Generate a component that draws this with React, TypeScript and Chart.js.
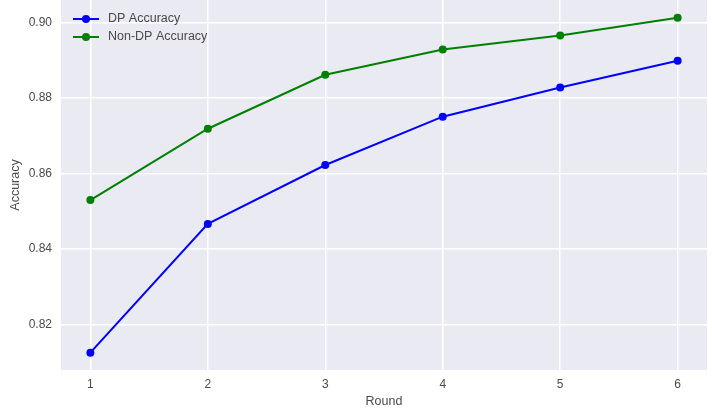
import { useEffect, useRef } from "react";
import { Chart, registerables } from "chart.js";
import type { Plugin } from "chart.js";

Chart.register(...registerables);

const rounds = [1, 2, 3, 4, 5, 6];
const dpAccuracy = [0.8126, 0.8467, 0.8623, 0.8751, 0.8828, 0.8899];
const nonDpAccuracy = [0.853, 0.8719, 0.8862, 0.8929, 0.8966, 0.9013];
const yTicks = [0.82, 0.84, 0.86, 0.88, 0.9];

const FONT = "'Liberation Sans', Arial, sans-serif";
const TEXT = "#4a4a4a";

const plotBackground: Plugin = {
	id: "plotBackground",
	beforeDraw(chart) {
		const { ctx, chartArea } = chart;
		ctx.save();
		ctx.fillStyle = "#fff";
		ctx.fillRect(0, 0, chart.width, chart.height);
		ctx.fillStyle = "#EAEAF2";
		ctx.fillRect(chartArea.left, chartArea.top, chartArea.right - chartArea.left, chartArea.bottom - chartArea.top);
		ctx.restore();
	},
};

// matplotlib-style legend drawn inside the top-left corner of the plot
const innerLegend: Plugin = {
	id: "innerLegend",
	afterDatasetsDraw(chart) {
		const { ctx, chartArea } = chart;
		ctx.save();
		chart.data.datasets.forEach((ds, i) => {
			const y = chartArea.top + 19 + i * 18;
			const x0 = chartArea.left + 12;
			const color = ds.borderColor as string;
			ctx.strokeStyle = color;
			ctx.lineWidth = 2;
			ctx.beginPath();
			ctx.moveTo(x0, y);
			ctx.lineTo(x0 + 26, y);
			ctx.stroke();
			ctx.fillStyle = color;
			ctx.beginPath();
			ctx.arc(x0 + 13, y, 4, 0, Math.PI * 2);
			ctx.fill();
			ctx.fillStyle = TEXT;
			ctx.font = `12.5px ${FONT}`;
			ctx.textBaseline = "middle";
			ctx.textAlign = "left";
			ctx.fillText(String(ds.label), x0 + 35, y);
		});
		ctx.restore();
	},
};

export default function App() {
	const canvasRef = useRef<HTMLCanvasElement | null>(null);

	useEffect(() => {
		if (!canvasRef.current) {
			return;
		}

		const chart = new Chart(canvasRef.current, {
			type: "line",
			data: {
				datasets: [
					{
						label: "DP Accuracy",
						data: rounds.map((r, i) => ({ x: r, y: dpAccuracy[i] })),
						borderColor: "#0000FF",
						backgroundColor: "#0000FF",
						borderWidth: 2,
						pointRadius: 4,
						pointBorderWidth: 0,
					},
					{
						label: "Non-DP Accuracy",
						data: rounds.map((r, i) => ({ x: r, y: nonDpAccuracy[i] })),
						borderColor: "#008000",
						backgroundColor: "#008000",
						borderWidth: 2,
						pointRadius: 4,
						pointBorderWidth: 0,
					},
				],
			},
			options: {
				responsive: false,
				animation: false,
				layout: { autoPadding: false, padding: { left: 0, right: 5, top: 0, bottom: 0 } },
				plugins: {
					legend: { display: false },
					tooltip: { enabled: false },
				},
				scales: {
					x: {
						type: "linear",
						min: 0.75,
						max: 6.25,
						afterBuildTicks: (scale) => {
							scale.ticks = rounds.map((v) => ({ value: v }));
						},
						afterFit: (scale) => {
							scale.height = 47;
							scale.paddingLeft = 0;
							scale.paddingRight = 0;
						},
						grid: { color: "#ffffff", lineWidth: 1.5, drawTicks: false },
						border: { display: false },
						ticks: {
							padding: 7,
							color: TEXT,
							font: { family: FONT, size: 12 },
							maxRotation: 0,
							callback: (v) => String(v),
						},
						title: {
							display: true,
							text: "Round",
							color: TEXT,
							font: { family: FONT, size: 12.5 },
							padding: { top: 0, bottom: 8 },
						},
					},
					y: {
						type: "linear",
						min: 0.808,
						max: 0.906,
						afterBuildTicks: (scale) => {
							scale.ticks = yTicks.map((v) => ({ value: v }));
						},
						afterFit: (scale) => {
							scale.width = 61;
							scale.paddingTop = 0;
							scale.paddingBottom = 0;
						},
						grid: { color: "#ffffff", lineWidth: 1.5, drawTicks: false },
						border: { display: false },
						ticks: {
							padding: 9,
							color: TEXT,
							font: { family: FONT, size: 12 },
							callback: (v) => Number(v).toFixed(2),
						},
						title: {
							display: true,
							text: "Accuracy",
							color: TEXT,
							font: { family: FONT, size: 12.5 },
							padding: { top: 8, bottom: 0 },
						},
					},
				},
			},
			plugins: [plotBackground, innerLegend],
		});

		return () => {
			chart.destroy();
		};
	}, []);

	return (
		<div style={{ position: "fixed", left: 0, top: 0, width: 712, height: 417, background: "#fff" }}>
			<canvas ref={canvasRef} width={712} height={417} />
		</div>
	);
}
